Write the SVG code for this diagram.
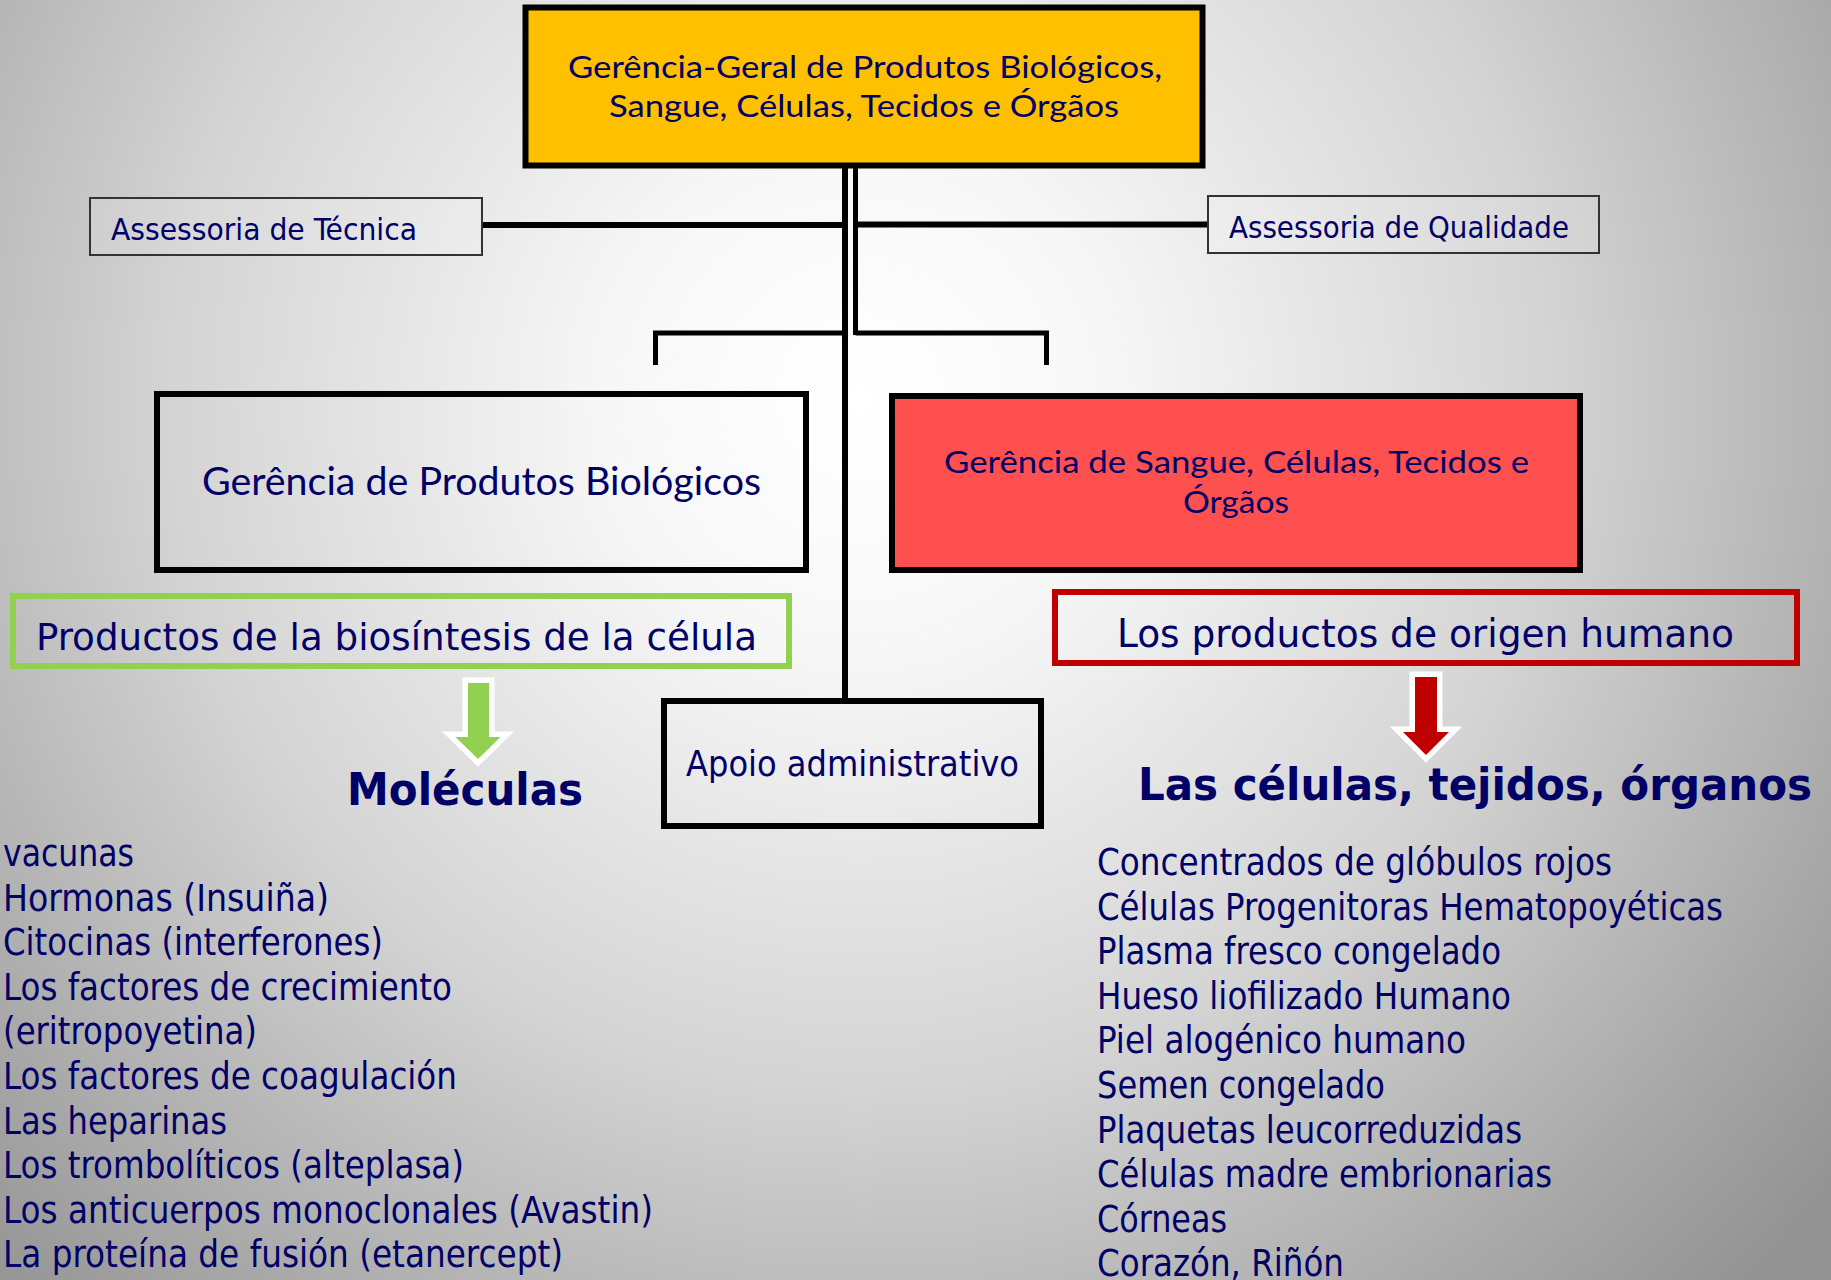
<svg xmlns="http://www.w3.org/2000/svg" width="1831" height="1280" viewBox="0 0 1831 1280">
<defs>
<radialGradient id="bg" gradientUnits="userSpaceOnUse" cx="860" cy="400" r="1250">
<stop offset="0" stop-color="#ffffff"/>
<stop offset="0.2" stop-color="#f7f7f7"/>
<stop offset="0.55" stop-color="#d4d4d4"/>
<stop offset="0.85" stop-color="#a8a8a8"/>
<stop offset="1" stop-color="#939393"/>
</radialGradient>
<style>
.box{stroke:#000;stroke-width:6}
.asr{fill:#ffffff;fill-opacity:0.12;stroke:#333;stroke-width:2}
.cal{font-family:Lato,'Open Sans','Noto Sans',sans-serif;fill:#000066}
.tah{font-family:'DejaVu Sans Condensed','DejaVu Sans',sans-serif;fill:#000066}
.bold{font-weight:bold}
.lst{font-size:37px}
.ln{stroke:#000;fill:none}
.arr{stroke:#fff;stroke-width:11;stroke-linejoin:miter;paint-order:stroke}
</style>
</defs>
<rect x="0" y="0" width="1831" height="1280" fill="url(#bg)"/>

<g id="connectors">
<line class="ln" x1="483" y1="225" x2="842" y2="225" stroke-width="6"/>
<line class="ln" x1="858" y1="224.5" x2="1207" y2="224.5" stroke-width="6"/>
<line class="ln" x1="845" y1="166" x2="845" y2="700" stroke-width="6"/>
<line class="ln" x1="855.5" y1="166" x2="855.5" y2="335" stroke-width="5"/>
<path class="ln" d="M655.5 365 V333 H845" stroke-width="5"/>
<path class="ln" d="M855.5 333 H1046.5 V365" stroke-width="5"/>
</g>

<g id="top">
<rect class="box" x="525.5" y="7.5" width="677" height="158" fill="#FFC000" stroke-width="5"/>
<text class="cal" x="865" y="78" font-size="31" text-anchor="middle" textLength="594" lengthAdjust="spacingAndGlyphs">Gerência-Geral de Produtos Biológicos,</text>
<text class="cal" x="864" y="117" font-size="31" text-anchor="middle" textLength="510" lengthAdjust="spacingAndGlyphs">Sangue, Células, Tecidos e Órgãos</text>
</g>

<g id="assessoria-tecnica">
<rect class="asr" x="90" y="198" width="392" height="57"/>
<text class="tah" x="111" y="240" font-size="31" textLength="306" lengthAdjust="spacingAndGlyphs">Assessoria de Técnica</text>
</g>

<g id="assessoria-qualidade">
<rect class="asr" x="1208" y="196" width="391" height="57"/>
<text class="tah" x="1229" y="238" font-size="31" textLength="340" lengthAdjust="spacingAndGlyphs">Assessoria de Qualidade</text>
</g>

<g id="gerencia-biologicos">
<rect class="box" x="157" y="394" width="649" height="176" fill="none"/>
<text class="cal" x="481.5" y="495" font-size="39" text-anchor="middle" textLength="559" lengthAdjust="spacingAndGlyphs">Gerência de Produtos Biológicos</text>
</g>

<g id="gerencia-sangue">
<rect class="box" x="892" y="396" width="688" height="174" fill="#FF5050"/>
<text class="cal" x="1236.5" y="473" font-size="31" text-anchor="middle" textLength="585" lengthAdjust="spacingAndGlyphs">Gerência de Sangue, Células, Tecidos e</text>
<text class="cal" x="1236" y="513" font-size="31" text-anchor="middle" textLength="106" lengthAdjust="spacingAndGlyphs">Órgãos</text>
</g>

<g id="productos-biosintesis">
<rect x="13" y="596" width="776" height="70" fill="none" stroke="#92D050" stroke-width="6"/>
<text class="tah" x="36" y="650" font-size="38" textLength="721" lengthAdjust="spacingAndGlyphs">Productos de la biosíntesis de la célula</text>
</g>

<g id="productos-humano">
<rect x="1055" y="592" width="742" height="71" fill="none" stroke="#C00000" stroke-width="6"/>
<text class="tah" x="1117" y="647" font-size="39" textLength="617" lengthAdjust="spacingAndGlyphs">Los productos de origen humano</text>
</g>

<g id="apoio">
<rect class="box" x="664" y="701" width="377" height="125" fill="none"/>
<text class="tah" x="686" y="776" font-size="35" textLength="333" lengthAdjust="spacingAndGlyphs">Apoio administrativo</text>
</g>

<g id="arrow-green">
<polygon class="arr" fill="#92D050" points="468,683 489,683 489,737 500.5,737 478,759 455.5,737 468,737"/>
</g>
<g id="arrow-red">
<polygon class="arr" fill="#C00000" points="1415,677 1437,677 1437,732 1449,732 1426,755 1403,732 1415,732"/>
</g>

<g id="moleculas">
<text class="tah bold" x="347" y="805" font-size="44" textLength="236" lengthAdjust="spacingAndGlyphs">Moléculas</text>
<text class="tah lst" x="3" y="866" textLength="131" lengthAdjust="spacingAndGlyphs">vacunas</text>
<text class="tah lst" x="3" y="910.6" textLength="326" lengthAdjust="spacingAndGlyphs">Hormonas (Insuiña)</text>
<text class="tah lst" x="3" y="955.2" textLength="380" lengthAdjust="spacingAndGlyphs">Citocinas (interferones)</text>
<text class="tah lst" x="3" y="999.8" textLength="449" lengthAdjust="spacingAndGlyphs">Los factores de crecimiento</text>
<text class="tah lst" x="3" y="1044.4" textLength="254" lengthAdjust="spacingAndGlyphs">(eritropoyetina)</text>
<text class="tah lst" x="3" y="1089" textLength="454" lengthAdjust="spacingAndGlyphs">Los factores de coagulación</text>
<text class="tah lst" x="3" y="1133.6" textLength="224" lengthAdjust="spacingAndGlyphs">Las heparinas</text>
<text class="tah lst" x="3" y="1178.2" textLength="461" lengthAdjust="spacingAndGlyphs">Los trombolíticos (alteplasa)</text>
<text class="tah lst" x="3" y="1222.8" textLength="650" lengthAdjust="spacingAndGlyphs">Los anticuerpos monoclonales (Avastin)</text>
<text class="tah lst" x="3" y="1267.4" textLength="560" lengthAdjust="spacingAndGlyphs">La proteína de fusión (etanercept)</text>
</g>

<g id="celulas">
<text class="tah bold" x="1138" y="800" font-size="45" textLength="674" lengthAdjust="spacingAndGlyphs">Las células, tejidos, órganos</text>
<text class="tah lst" x="1097" y="875" textLength="515" lengthAdjust="spacingAndGlyphs">Concentrados de glóbulos rojos</text>
<text class="tah lst" x="1097" y="919.6" textLength="626" lengthAdjust="spacingAndGlyphs">Células Progenitoras Hematopoyéticas</text>
<text class="tah lst" x="1097" y="964.2" textLength="404" lengthAdjust="spacingAndGlyphs">Plasma fresco congelado</text>
<text class="tah lst" x="1097" y="1008.8" textLength="414" lengthAdjust="spacingAndGlyphs">Hueso liofilizado Humano</text>
<text class="tah lst" x="1097" y="1053.4" textLength="369" lengthAdjust="spacingAndGlyphs">Piel alogénico humano</text>
<text class="tah lst" x="1097" y="1098" textLength="288" lengthAdjust="spacingAndGlyphs">Semen congelado</text>
<text class="tah lst" x="1097" y="1142.6" textLength="425" lengthAdjust="spacingAndGlyphs">Plaquetas leucorreduzidas</text>
<text class="tah lst" x="1097" y="1187.2" textLength="455" lengthAdjust="spacingAndGlyphs">Células madre embrionarias</text>
<text class="tah lst" x="1097" y="1231.8" textLength="130" lengthAdjust="spacingAndGlyphs">Córneas</text>
<text class="tah lst" x="1097" y="1276.4" textLength="247" lengthAdjust="spacingAndGlyphs">Corazón, Riñón</text>
</g>
</svg>
